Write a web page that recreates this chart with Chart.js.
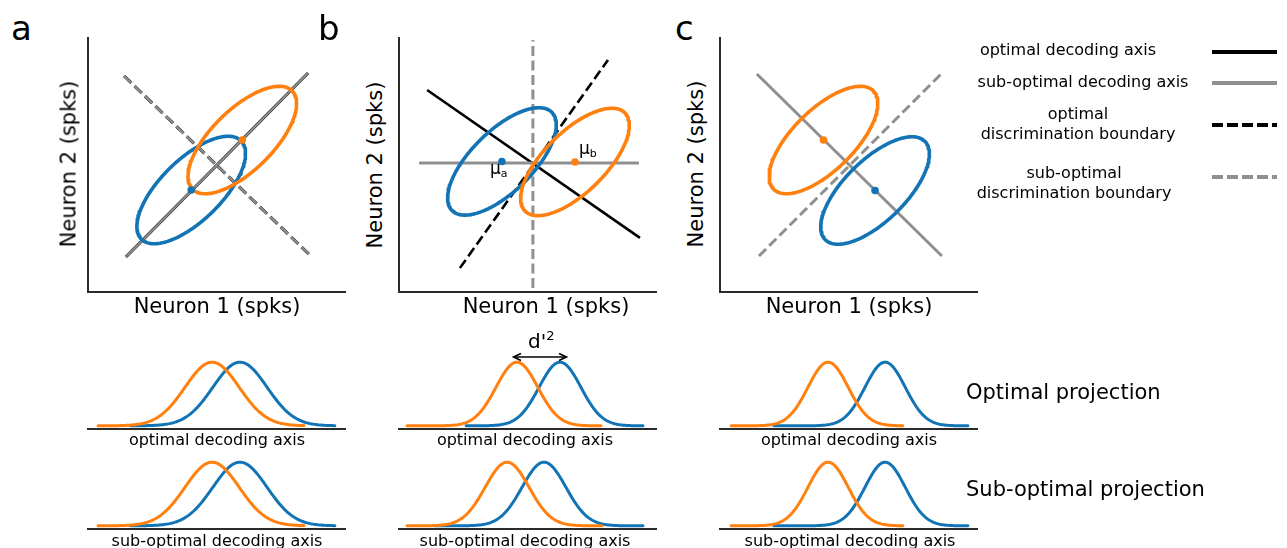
<!DOCTYPE html>
<html lang="en">
<head>
<meta charset="UTF-8">
<title>Decoding axes and discrimination boundaries</title>
<script src="https://cdn.jsdelivr.net/npm/chart.js"></script>
<style>
    * { margin: 0; padding: 0; box-sizing: border-box; }
    body {
        width: 1287px;
        height: 548px;
        overflow: hidden;
        background: #fff;
        font-family: 'DejaVu Sans', sans-serif;
        color: #000;
        position: relative;
    }
    canvas, .txt, svg { position: absolute; }
    .txt { line-height: 1; white-space: nowrap; }
    .mid { transform: translateX(-50%); text-align: center; }
    .letter { font-size: 34px; top: 11px; }
    .xlab { font-size: 21px; top: 296px; }
    .ylab { font-size: 21px; transform: translate(-50%, -50%) rotate(-90deg); }
    .proj { font-size: 16px; }
    .leg { font-size: 16px; line-height: 20px; text-align: center; transform: translateX(-50%); }
    .big { font-size: 21px; left: 966px; }
    .mu { font-size: 17px; }
    .mu span { font-size: 11px; position: relative; top: 3px; }
</style>
</head>
<body>
<!-- scatter panels -->
<canvas id="scA" width="278" height="275" style="left:78px;top:27px"></canvas>
<canvas id="scB" width="278" height="275" style="left:389px;top:27px"></canvas>
<canvas id="scC" width="278" height="275" style="left:710px;top:27px"></canvas>
<!-- projections -->
<canvas id="pA1" width="278" height="90" style="left:78px;top:349px"></canvas>
<canvas id="pA2" width="278" height="90" style="left:78px;top:449px"></canvas>
<canvas id="pB1" width="278" height="90" style="left:389px;top:349px"></canvas>
<canvas id="pB2" width="278" height="90" style="left:389px;top:449px"></canvas>
<canvas id="pC1" width="278" height="90" style="left:710px;top:349px"></canvas>
<canvas id="pC2" width="278" height="90" style="left:710px;top:449px"></canvas>

<div class="txt letter" style="left:11px">a</div>
<div class="txt letter" style="left:318px">b</div>
<div class="txt letter" style="left:675px">c</div>

<div class="txt xlab mid" style="left:217px">Neuron 1 (spks)</div>
<div class="txt xlab mid" style="left:546px">Neuron 1 (spks)</div>
<div class="txt xlab mid" style="left:849px">Neuron 1 (spks)</div>
<div class="txt ylab" style="left:69px;top:164px">Neuron 2 (spks)</div>
<div class="txt ylab" style="left:375px;top:165px">Neuron 2 (spks)</div>
<div class="txt ylab" style="left:696px;top:164px">Neuron 2 (spks)</div>

<div class="txt mu" style="left:490px;top:160px">μ<span>a</span></div>
<div class="txt mu" style="left:579px;top:140px">μ<span>b</span></div>
<div class="txt" style="left:528px;top:331px;font-size:20px">d'<span style="font-size:13px;position:relative;top:-8px">2</span></div>

<div class="txt proj mid" style="left:217px;top:432px">optimal decoding axis</div>
<div class="txt proj mid" style="left:525px;top:432px">optimal decoding axis</div>
<div class="txt proj mid" style="left:849px;top:432px">optimal decoding axis</div>
<div class="txt proj mid" style="left:217px;top:533px">sub-optimal decoding axis</div>
<div class="txt proj mid" style="left:525px;top:533px">sub-optimal decoding axis</div>
<div class="txt proj mid" style="left:850px;top:533px">sub-optimal decoding axis</div>

<div class="txt big" style="top:382px">Optimal projection</div>
<div class="txt big" style="top:479px">Sub-optimal projection</div>

<div class="txt leg" style="left:1068px;top:40px">optimal decoding axis</div>
<div class="txt leg" style="left:1083px;top:72px">sub-optimal decoding axis</div>
<div class="txt leg" style="left:1078px;top:104px">optimal<br>discrimination boundary</div>
<div class="txt leg" style="left:1074px;top:163px">sub-optimal<br>discrimination boundary</div>

<svg width="1287" height="548" style="left:0;top:0;pointer-events:none">
    <line x1="1212" y1="52" x2="1277" y2="52" stroke="#000" stroke-width="4"/>
    <line x1="1212" y1="83" x2="1277" y2="83" stroke="#8f8f8f" stroke-width="4"/>
    <line x1="1212" y1="125" x2="1277" y2="125" stroke="#000" stroke-width="4" stroke-dasharray="11 4"/>
    <line x1="1212" y1="177" x2="1277" y2="177" stroke="#8f8f8f" stroke-width="4" stroke-dasharray="11 4"/>
    <line x1="514" y1="357" x2="566" y2="357" stroke="#000" stroke-width="1.6"/>
    <polyline points="521,353.5 513.5,357 521,360.5" fill="none" stroke="#000" stroke-width="1.6"/>
    <polyline points="559,353.5 566.5,357 559,360.5" fill="none" stroke="#000" stroke-width="1.6"/>
</svg>

<script>
    // ---- scatter panels (axis units 0..10) ----
    // class covariance ellipse: semi-major, semi-minor, tilt in degrees
    const ellipseAxes = [2.73, 1.19];
    const ellipseTilt = 45;

    // class means [blue, orange]
    const meansA = [[4.0, 4.0], [5.98, 5.96]];
    const meansB = [[3.99, 5.12], [6.82, 5.10]];
    const meansC = [[6.01, 3.98], [4.01, 5.96]];

    // line end points
    const optAxisA = [[1.47, 1.37], [8.53, 8.59]];
    const subAxisA = [[1.47, 1.37], [8.53, 8.59]];
    const optBoundA = [[1.40, 8.47], [8.60, 1.45]];
    const subBoundA = [[1.40, 8.47], [8.60, 1.45]];

    const optAxisB = [[1.09, 7.92], [9.34, 2.12]];
    const subAxisB = [[0.78, 5.06], [9.30, 5.06]];
    const optBoundB = [[2.36, 0.94], [8.10, 9.10]];
    const subBoundB = [[5.19, 0.16], [5.19, 9.88]];

    const subAxisC = [[1.43, 8.55], [8.60, 1.41]];
    const subBoundC = [[1.51, 1.41], [8.57, 8.55]];

    // ---- projections: [mean, sd, from, to] on the decoding axis (0..10) ----
    const projBlueA1 = [5.89, 1.05, 1.63, 9.57];
    const projOrangeA1 = [4.81, 1.05, 0.39, 8.37];
    const projBlueA2 = [5.89, 1.05, 1.63, 9.57];
    const projOrangeA2 = [4.81, 1.05, 0.39, 8.37];
    const projBlueB1 = [6.24, 0.81, 2.60, 9.46];
    const projOrangeB1 = [4.57, 0.81, 0.31, 7.83];
    const projBlueB2 = [5.62, 0.85, 1.36, 9.46];
    const projOrangeB2 = [4.19, 0.85, 0.31, 7.87];
    const projBlueC1 = [6.40, 0.78, 2.09, 9.61];
    const projOrangeC1 = [4.19, 0.78, 0.43, 7.09];
    const projBlueC2 = [6.40, 0.78, 2.09, 9.61];
    const projOrangeC2 = [4.19, 0.78, 0.43, 7.09];

    const BLUE = '#1274b4';
    const ORANGE = '#ff800e';
    const GREY = '#8f8f8f';
    const SPINE = '#2b2b2b';

    function ellipsePoints(c) {
        const t = ellipseTilt * Math.PI / 180;
        const pts = [];
        for (let i = 0; i <= 160; i++) {
            const u = i / 160 * 2 * Math.PI;
            const ex = ellipseAxes[0] * Math.cos(u), ey = ellipseAxes[1] * Math.sin(u);
            pts.push({ x: c[0] + ex * Math.cos(t) - ey * Math.sin(t), y: c[1] + ex * Math.sin(t) + ey * Math.cos(t) });
        }
        return pts;
    }

    function gaussPoints(p) {
        const [m, s, a, b] = p;
        const pts = [];
        for (let i = 0; i <= 150; i++) {
            const x = a + (b - a) * i / 150;
            pts.push({ x: x, y: Math.exp(-0.5 * ((x - m) / s) ** 2) });
        }
        return pts;
    }

    function lineSet(pts, color, width, dashed, order) {
        return {
            data: pts.map(p => ({ x: p[0], y: p[1] })),
            showLine: true, borderColor: color, borderWidth: width,
            borderDash: dashed ? [10, 4.5] : [], pointRadius: 0, order: order, clip: false
        };
    }

    function curveSet(pts, color, width, order) {
        return {
            data: pts, showLine: true, borderColor: color, borderWidth: width,
            borderJoinStyle: 'round', borderCapStyle: 'round',
            pointRadius: 0, order: order, clip: false
        };
    }

    function dotSet(c, color) {
        return { data: [{ x: c[0], y: c[1] }], showLine: false, pointRadius: 3.8, pointBorderWidth: 0, pointBackgroundColor: color, order: 0, clip: false };
    }

    // axis spines drawn on top, like matplotlib
    function spines(withLeft) {
        return {
            id: 'spines',
            afterDatasetsDraw(chart) {
                const ctx = chart.ctx, xs = chart.scales.x, ys = chart.scales.y;
                const x0 = xs.getPixelForValue(xs.min), x1 = xs.getPixelForValue(xs.max);
                const y0 = ys.getPixelForValue(ys.min), y1 = ys.getPixelForValue(ys.max);
                ctx.save();
                ctx.strokeStyle = SPINE;
                ctx.lineWidth = 2;
                ctx.beginPath();
                ctx.moveTo(x0 - 1, y0);
                ctx.lineTo(x1, y0);
                if (withLeft) {
                    ctx.moveTo(x0, y0 + 1);
                    ctx.lineTo(x0, y1);
                }
                ctx.stroke();
                ctx.restore();
            }
        };
    }

    function makeChart(id, datasets, ymin, ymax, withLeft) {
        new Chart(document.getElementById(id), {
            type: 'scatter',
            data: { datasets: datasets },
            options: {
                responsive: false,
                animation: false,
                devicePixelRatio: 1,
                layout: { padding: 10 },
                scales: {
                    x: { type: 'linear', min: 0, max: 10, display: false },
                    y: { type: 'linear', min: ymin, max: ymax, display: false }
                },
                plugins: { legend: { display: false }, tooltip: { enabled: false } }
            },
            plugins: [spines(withLeft)]
        });
    }

    function scatterPanel(id, means, greyLines, blackLines, blackWidth) {
        const ds = [
            dotSet(means[0], BLUE), dotSet(means[1], ORANGE),
            curveSet(ellipsePoints(means[1]), ORANGE, 3.6, 1),
            curveSet(ellipsePoints(means[0]), BLUE, 3.6, 2)
        ];
        greyLines.forEach(l => ds.push(lineSet(l[0], GREY, l[2] || 3, l[1], 3)));
        blackLines.forEach(l => ds.push(lineSet(l[0], '#000', blackWidth, l[1], 4)));
        makeChart(id, ds, 0, 10, true);
    }

    scatterPanel('scA', meansA, [[subAxisA, false, 2.2], [subBoundA, true, 2.4]], [[optAxisA, false], [optBoundA, true]], 3);
    scatterPanel('scB', meansB, [[subAxisB, false], [subBoundB, true]], [[optAxisB, false], [optBoundB, true]], 2.6);
    scatterPanel('scC', meansC, [[subAxisC, false], [subBoundC, true]], [], 2.6);

    function projPanel(id, blue, orange) {
        makeChart(id, [
            curveSet(gaussPoints(orange), ORANGE, 3, 0),
            curveSet(gaussPoints(blue), BLUE, 3, 1)
        ], -0.05, 1.05, false);
    }

    projPanel('pA1', projBlueA1, projOrangeA1);
    projPanel('pA2', projBlueA2, projOrangeA2);
    projPanel('pB1', projBlueB1, projOrangeB1);
    projPanel('pB2', projBlueB2, projOrangeB2);
    projPanel('pC1', projBlueC1, projOrangeC1);
    projPanel('pC2', projBlueC2, projOrangeC2);
</script>
</body>
</html>
